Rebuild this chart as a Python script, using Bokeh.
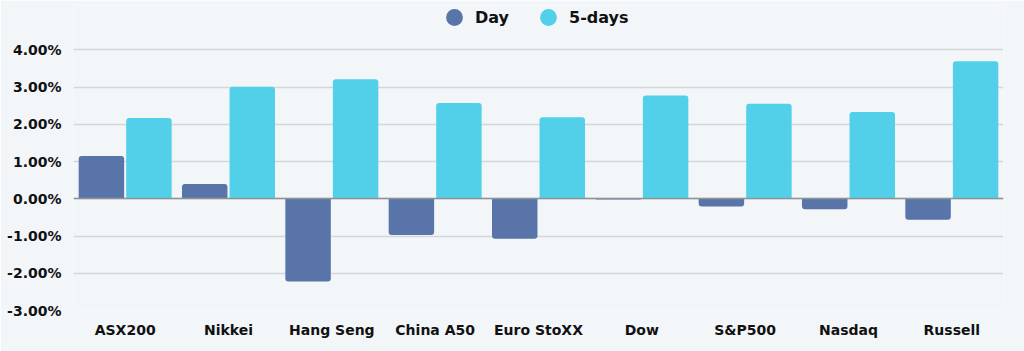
from bokeh.plotting import figure
from bokeh.models import (FactorRange, Range1d, FixedTicker, PrintfTickFormatter, Legend, LegendItem,
                          ColumnDataSource, CDSView, BooleanFilter)
from bokeh.transform import dodge
from bokeh.embed import file_html
from bokeh.resources import INLINE

categories = ["ASX200", "Nikkei", "Hang Seng", "China A50", "Euro StoXX", "Dow", "S&P500", "Nasdaq", "Russell"]
day = [1.15, 0.40, -2.22, -0.97, -1.07, -0.02, -0.21, -0.28, -0.56]
five_days = [2.17, 3.01, 3.21, 2.57, 2.19, 2.77, 2.55, 2.33, 3.69]
y_ticks = [-3, -2, -1, 0, 1, 2, 3, 4]

DAY_C = "#5874a9"
FIVE_C = "#52d0ea"
FONT = "DejaVu Sans"
BG = "#f3f6f9"

src = ColumnDataSource(dict(cat=categories, day=day, five=five_days,
                            dtop=[max(v, 0) for v in day], dbot=[min(v, 0) for v in day]))
pos = CDSView(filter=BooleanFilter([v >= 0 for v in day]))
neg = CDSView(filter=BooleanFilter([v < 0 for v in day]))

p = figure(width=1024, height=351, x_range=FactorRange(*categories), y_range=Range1d(-3, 5.19),
           output_backend="svg", toolbar_location=None,
           min_border_left=73, min_border_right=21, min_border_bottom=41, min_border_top=5)
p.background_fill_color = BG
p.border_fill_color = BG
p.outline_line_color = None

p.xgrid.grid_line_color = None
p.ygrid.grid_line_color = "#d3d7db"
p.ygrid.grid_line_width = 1.5
p.yaxis.ticker = FixedTicker(ticks=y_ticks)
p.yaxis.formatter = PrintfTickFormatter(format="%.2f%%")
for ax in (p.xaxis, p.yaxis):
    ax.axis_line_color = None
    ax.major_tick_line_color = None
    ax.minor_tick_line_color = None
    ax.major_label_text_font = FONT
    ax.major_label_text_font_style = "bold"
    ax.major_label_text_font_size = "14px"
    ax.major_label_text_color = "#111111"
p.yaxis.major_label_standoff = 6
p.xaxis.major_label_standoff = 5

xd = dodge("cat", -0.23, range=p.x_range)
xf = dodge("cat", 0.23, range=p.x_range)
p.vbar(x=xd, top="dtop", bottom="dbot", width=0.44, source=src, view=pos,
       fill_color=DAY_C, line_color=None, border_radius=(3, 3, 0, 0))
p.vbar(x=xd, top="dtop", bottom="dbot", width=0.44, source=src, view=neg,
       fill_color=DAY_C, line_color=None, border_radius=(0, 0, 3, 3))
p.vbar(x=xf, top="five", width=0.44, source=src,
       fill_color=FIVE_C, line_color=None, border_radius=(3, 3, 0, 0))

p.hspan(y=[0], line_color="#8e9398", line_width=1.5)

nan = float("nan")
r1 = p.scatter(x=[categories[0]], y=[nan], marker="circle", size=17, fill_color=DAY_C, line_color=None)
r2 = p.scatter(x=[categories[0]], y=[nan], marker="circle", size=17, fill_color=FIVE_C, line_color=None)
legend = Legend(items=[LegendItem(label="Day", renderers=[r1]), LegendItem(label="5-days", renderers=[r2])],
                orientation="horizontal", location=(360, 272), border_line_color=None,
                background_fill_alpha=0, label_text_font=FONT, label_text_font_style="bold",
                label_text_font_size="16px", label_text_color="#111111", spacing=18,
                glyph_width=42, glyph_height=42, padding=0, margin=0, label_standoff=0)
p.add_layout(legend)

open("out.html", "w").write(file_html(p, INLINE))
